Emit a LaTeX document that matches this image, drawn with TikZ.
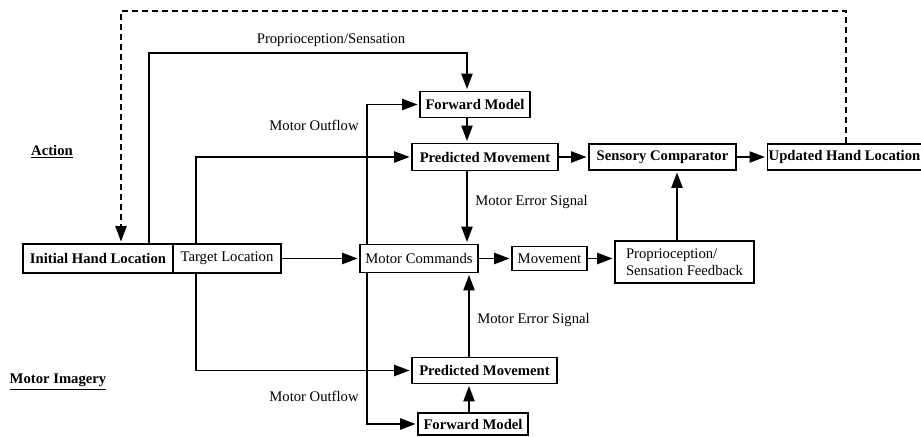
\documentclass[tikz,border=0pt]{standalone}
\usepackage{fontspec}
\setmainfont{Liberation Serif}
\usetikzlibrary{arrows.meta}

\tikzset{
  box/.style={draw, line width=0.8pt, inner sep=1pt, minimum height=19.5pt},
  boldbox/.style={box, font=\fontsize{11}{13}\selectfont\bfseries},
  arr/.style={line width=0.8pt, shorten >=1.5pt, -{Triangle[length=11.5pt,width=8.5pt]}},
  lbl/.style={inner sep=0pt}
}

\begin{document}
\begin{tikzpicture}[x=0.75pt, y=-0.75pt, font=\fontsize{11}{13}\selectfont]
\useasboundingbox (0,0) rectangle (921,436);

    % Boxes, middle row
    \node[boldbox, minimum width=112.5pt, minimum height=21.75pt] (init) at (98,258.5) {Initial Hand Location};
    \node[box, minimum width=81pt, minimum height=21.75pt] (tgt) at (227,258.5) {Target Location};
    \node[box, minimum width=88.5pt, minimum height=21pt] (cmd) at (419,258.5) {Motor Commands};
    \node[box, minimum width=56.25pt, minimum height=18pt] (move) at (549.5,258.5) {Movement};
    \node[box, minimum width=104.25pt, minimum height=31.5pt, align=left] (feed) at (684.5,262) {Proprioception/\\Sensation Feedback};

    % Boxes, action
    \node[boldbox, minimum width=82.5pt] (fwdA) at (475,104.5) {Forward Model};
    \node[boldbox, minimum width=109.5pt, minimum height=20.25pt] (predA) at (485,157) {Predicted Movement};
    \node[boldbox, minimum width=110.25pt] (comp) at (662.5,157) {Sensory Comparator};
    \node[boldbox, minimum width=113.25pt] (upd) at (844.5,157) {Updated Hand Location};

    % Boxes, motor imagery
    \node[boldbox, minimum width=108.75pt] (predB) at (484.5,370.5) {Predicted Movement};
    \node[boldbox, minimum width=82.5pt, minimum height=16.5pt] (fwdB) at (473,424) {Forward Model};

    % Side titles
    \node[lbl, font=\fontsize{11}{13}\selectfont\bfseries] (action) at (52,152) {\underline{Action}};
    \node[lbl, font=\fontsize{11}{13}\selectfont\bfseries] (imag) at (58,382) {\underline{Motor Imagery}};

    % Bend points
    \coordinate (dashR) at (846,11);
    \coordinate (dashL) at (121,11);
    \coordinate (propL) at (149,53);
    \coordinate (propR) at (467,53);
    \coordinate (tgtX) at (196,0);
    \coordinate (outX) at (367,0);
    \coordinate (colA) at (467,0);
    \coordinate (colB) at (469,0);
    \coordinate (colC) at (677,0);

    % Dashed feedback loop
    \draw[arr, dashed, dash pattern=on 4.5pt off 3pt] (upd.north -| dashR) -- (dashR) -- (dashL) -- (init.north -| dashL);

    % Proprioception/Sensation
    \draw[arr] (init.north -| propL) -- (propL) -- (propR) -- (fwdA.north -| propR);
    \node[lbl] (propLbl) at (331,40) {Proprioception/Sensation};

    % Target location
    \draw[arr] (tgt.north -| tgtX) |- (predA.west);
    \draw[arr] (tgt.south -| tgtX) |- (predB.west);
    \draw[arr] (tgt.east) -- (cmd.west);

    % Motor outflow
    \draw[arr] (cmd.north -| outX) |- (fwdA.west);
    \draw[arr] (cmd.south -| outX) |- (fwdB.west);
    \node[lbl] (outA) at (314,125) {Motor Outflow};
    \node[lbl] (outB) at (314,396) {Motor Outflow};

    % Action chain
    \draw[arr] (fwdA.south -| colA) -- (predA.north -| colA);
    \draw[arr] (predA.south -| colA) -- (cmd.north -| colA);
    \node[lbl, anchor=west] (errA) at (475,202) {Motor Error Signal};
    \draw[arr] (predA.east) -- (comp.west);
    \draw[arr] (comp.east) -- (upd.west);

    % Execution
    \draw[arr] (cmd.east) -- (move.west);
    \draw[arr] (move.east) -- (move.east -| feed.west);
    \draw[arr] (feed.north -| colC) -- (comp.south -| colC);

    % Imagery chain
    \draw[arr] (fwdB.north -| colB) -- (predB.south -| colB);
    \draw[arr] (predB.north -| colB) -- (cmd.south -| colB);
    \node[lbl, anchor=west] (errB) at (477,320) {Motor Error Signal};

\end{tikzpicture}
\end{document}
